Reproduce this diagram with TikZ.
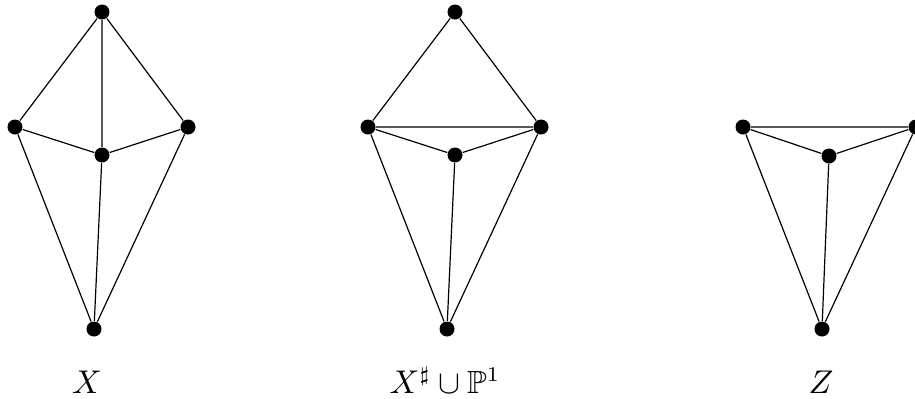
\documentclass[tikz,border=0pt]{standalone}
\usepackage{amssymb}
\begin{document}
\begin{tikzpicture}[x=0.3333pt,y=-0.3333pt,
  dot/.style={circle,fill=black,inner sep=0pt,minimum size=5pt},
  edge/.style={line width=0.4pt},
  lbl/.style={inner sep=0pt,anchor=base,font=\fontsize{10.7}{13}\selectfont}]
\useasboundingbox (0,0) rectangle (915,398);
% Graph X
\node[dot] (at) at (102,12) {};
\node[dot] (al) at (15,127) {};
\node[dot] (ar) at (188,127) {};
\node[dot] (ac) at (102,155) {};
\node[dot] (ab) at (94,329) {};
\draw[edge] (at) -- (al) (at) -- (ar) (at) -- (ac) (al) -- (ac) (ar) -- (ac)
  (al) -- (ab) (ar) -- (ab) (ac) -- (ab);
\node[lbl] (la) at (87,393) {$X$};
% Graph X# u P1
\node[dot] (bt) at (455,12) {};
\node[dot] (bl) at (368,127) {};
\node[dot] (br) at (541,127) {};
\node[dot] (bc) at (455,155) {};
\node[dot] (bb) at (447,329) {};
\draw[edge] (bt) -- (bl) (bt) -- (br) (bl) -- (br) (bl) -- (bc) (br) -- (bc)
  (bl) -- (bb) (br) -- (bb) (bc) -- (bb);
\node[lbl] (lb) at (445,393) {$X^\sharp\cup\mathbb{P}^1$};
% Graph Z
\node[dot] (cl) at (743,127) {};
\node[dot] (cr) at (916,127) {};
\node[dot] (cc) at (829,156) {};
\node[dot] (cb) at (822,329) {};
\draw[edge] (cl) -- (cr) (cl) -- (cc) (cr) -- (cc)
  (cl) -- (cb) (cr) -- (cb) (cc) -- (cb);
\node[lbl] (lc) at (821,393) {$Z$};
\end{tikzpicture}
\end{document}
